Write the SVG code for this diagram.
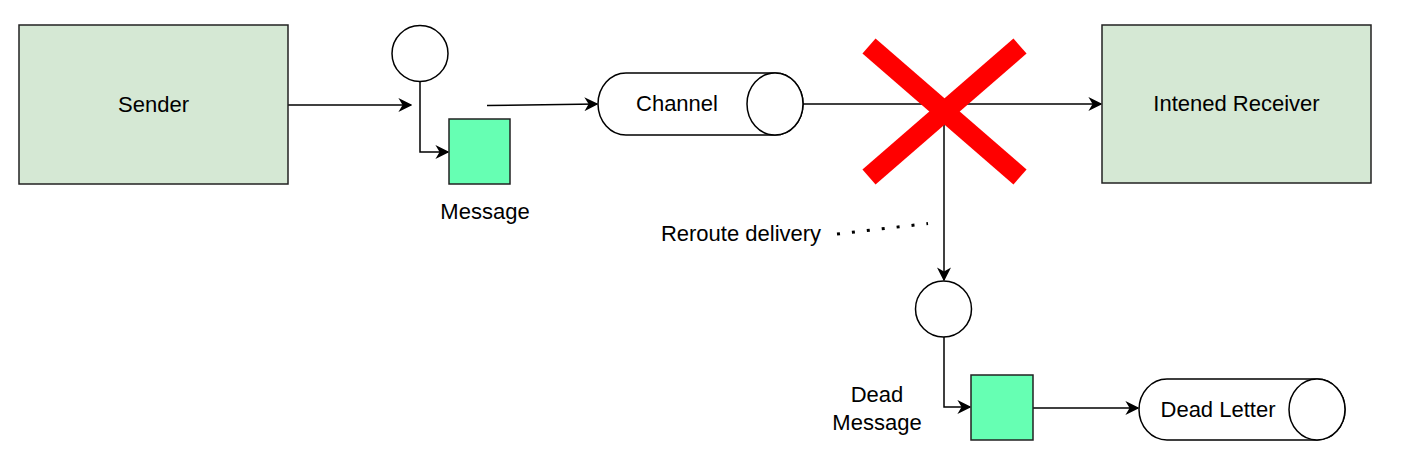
<svg xmlns="http://www.w3.org/2000/svg" width="1414" height="458" viewBox="0 0 1414 458">
<defs>
<style>
text{font-family:"Liberation Sans",Arial,sans-serif;font-size:22px;fill:#000;}
.box{fill:#d5e8d4;stroke:#222;stroke-width:1.5;}
.msg{fill:#66ffb3;stroke:#222;stroke-width:1.5;}
.shape{fill:#fff;stroke:#000;stroke-width:1.5;}
.edge{fill:none;stroke:#000;stroke-width:1.5;}
</style>
<marker id="arr" viewBox="0 0 10 10" refX="9" refY="5" markerWidth="14" markerHeight="14" markerUnits="userSpaceOnUse" orient="auto">
<path d="M0,0 L10,5 L0,10 L3,5 Z" fill="#000"/>
</marker>
</defs>
<g id="connectors">
<line class="edge" x1="288" y1="105" x2="411" y2="105" marker-end="url(#arr)"/>
<polyline class="edge" points="420,82 420,152 448,152" marker-end="url(#arr)"/>
<line class="edge" x1="487" y1="105.5" x2="597" y2="104" marker-end="url(#arr)"/>
<line class="edge" x1="803" y1="104" x2="1101" y2="104" marker-end="url(#arr)"/>
<line class="edge" x1="944" y1="115" x2="944" y2="280" marker-end="url(#arr)"/>
<polyline class="edge" points="944,337 944,407 970,407" marker-end="url(#arr)"/>
<line class="edge" x1="1033" y1="408" x2="1138" y2="408" marker-end="url(#arr)"/>
<line x1="837" y1="234" x2="928" y2="223.5" stroke="#000" stroke-width="3" stroke-dasharray="3,12"/>
</g>
<g id="sender"><rect class="box" x="19" y="25" width="269" height="159"/><text x="153.5" y="112" text-anchor="middle">Sender</text></g>
<g id="receiver"><rect class="box" x="1102" y="25" width="269" height="158"/><text x="1236.5" y="111" text-anchor="middle">Intened Receiver</text></g>
<g id="circle1"><circle class="shape" cx="420" cy="53.5" r="28"/></g>
<g id="message"><rect class="msg" x="449" y="119" width="61" height="65"/><text x="485" y="219" text-anchor="middle">Message</text></g>
<g id="channel">
<path class="shape" d="M626,73 L775,73 A28,31 0 0 1 775,135 L626,135 A28,31 0 0 1 626,73 Z"/>
<ellipse class="shape" cx="775" cy="104" rx="28" ry="31"/>
<text x="677" y="111" text-anchor="middle">Channel</text>
</g>
<g id="cross">
<line x1="869" y1="46" x2="1020" y2="177" stroke="#ff0000" stroke-width="20"/>
<line x1="1020" y1="46" x2="869" y2="177" stroke="#ff0000" stroke-width="20"/>
</g>
<g id="reroute"><text x="741" y="241" text-anchor="middle">Reroute delivery</text></g>
<g id="circle2"><circle class="shape" cx="943.5" cy="309" r="28"/></g>
<g id="deadmessage"><rect class="msg" x="971" y="375" width="62" height="65"/><text x="877" y="402" text-anchor="middle">Dead</text><text x="877" y="430" text-anchor="middle">Message</text></g>
<g id="deadletter">
<path class="shape" d="M1167,379 L1317,379 A28,30.5 0 0 1 1317,440 L1167,440 A28,30.5 0 0 1 1167,379 Z"/>
<ellipse class="shape" cx="1317" cy="409.5" rx="28" ry="30.5"/>
<text x="1218" y="417" text-anchor="middle">Dead Letter</text>
</g>
</svg>
